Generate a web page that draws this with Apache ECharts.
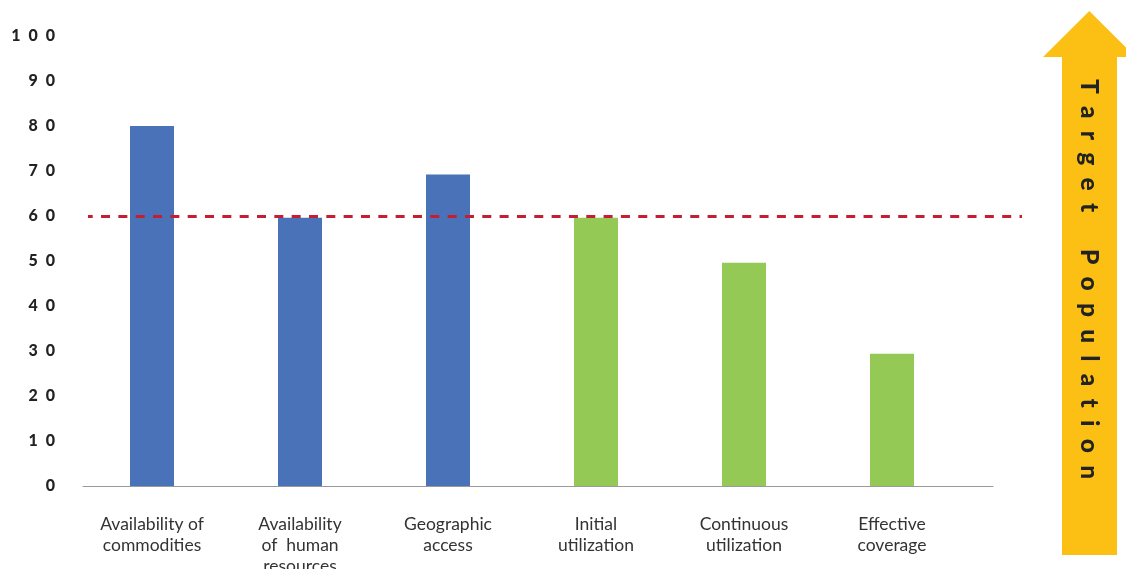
<!DOCTYPE html>
<html>
<head>
<meta charset="utf-8">
<script src="https://cdn.jsdelivr.net/npm/echarts@6/dist/echarts.min.js"></script>
<style>
  html, body { margin: 0; padding: 0; background: #ffffff; }
  #chart { width: 1126px; height: 569px; }
</style>
</head>
<body>
<div id="chart"></div>
<script>
// Health-system determinants and their coverage levels (%)
const categories = [
  'Availability of\ncommodities',
  'Availability\nof  human\nresources',
  'Geographic\naccess',
  'Initial\nutilization',
  'Continuous\nutilization',
  'Effective\ncoverage'
];
// supply-side determinants (blue)
const supplyValues = [80, 59.6, 69.2, '-', '-', '-'];
// demand-side determinants (green)
const demandValues = ['-', '-', '-', 59.6, 49.6, 29.4];
// target coverage threshold
const targetLevel = 60;
// y axis range and step
const yMin = 0, yMax = 100, yStep = 10;
const arrowLabel = 'Target Population';

const FONT = 'Lato, "Open Sans", sans-serif';

// spread characters apart with spaces
function spaced(str, gap, wordGap) {
  return str.split(' ').map(w => w.split('').join(gap)).join(wordGap);
}

const chart = echarts.init(document.getElementById('chart'), null, { renderer: 'canvas' });

const hiddenY = gi => ({ type: 'value', gridIndex: gi, min: yMin, max: yMax, show: false });
const gridBase = { top: 36, bottom: 83, containLabel: false, outerBoundsMode: 'none' };

chart.setOption({
  animation: false,
  backgroundColor: '#ffffff',
  grid: [
    Object.assign({ left: 78, width: 888 }, gridBase),   // bars
    Object.assign({ left: 83, right: 133 }, gridBase),   // baseline
    Object.assign({ left: 88, right: 104 }, gridBase)    // target line
  ],
  xAxis: [
    {
      type: 'category', gridIndex: 0, data: categories,
      axisLine: { show: false }, axisTick: { show: false },
      axisLabel: {
        interval: 0, margin: 28, fontSize: 17.5, lineHeight: 21,
        color: '#333333', fontFamily: FONT
      }
    },
    {
      type: 'value', gridIndex: 1, min: 0, max: 1,
      axisLine: { show: true, lineStyle: { color: '#9a9a9a', width: 1 } },
      axisTick: { show: false }, axisLabel: { show: false }, splitLine: { show: false }
    },
    { type: 'value', gridIndex: 2, min: 0, max: 1, show: false }
  ],
  yAxis: [
    {
      type: 'value', gridIndex: 0, min: yMin, max: yMax, interval: yStep,
      axisLine: { show: false }, axisTick: { show: false }, splitLine: { show: false },
      axisLabel: {
        margin: 23, fontSize: 16, fontWeight: 900, color: '#222222', fontFamily: FONT,
        formatter: v => String(v).split('').join('\u2002')
      }
    },
    hiddenY(1),
    hiddenY(2)
  ],
  series: [
    {
      name: 'Supply', type: 'bar', xAxisIndex: 0, yAxisIndex: 0,
      data: supplyValues, barWidth: 44, barGap: '-100%',
      itemStyle: { color: '#4A72B8' }
    },
    {
      name: 'Demand', type: 'bar', xAxisIndex: 0, yAxisIndex: 0,
      data: demandValues, barWidth: 44, barGap: '-100%',
      itemStyle: { color: '#95C955' }
    },
    {
      name: 'Target', type: 'line', xAxisIndex: 2, yAxisIndex: 2, data: [],
      markLine: {
        silent: true, symbol: 'none', label: { show: false },
        lineStyle: { color: '#C41E32', width: 3, type: [9, 8.33], dashOffset: 4.3 },
        data: [{ yAxis: targetLevel }]
      }
    }
  ],
  graphic: [
    {
      type: 'polygon', silent: true,
      shape: { points: [[1089.3, 11], [1135.6, 57], [1117, 57], [1117, 555], [1062, 555], [1062, 57], [1043, 57]] },
      style: { fill: '#FCBF14' }
    },
    {
      type: 'text', silent: true, x: 1089, y: 279, rotation: -Math.PI / 2,
      style: {
        text: spaced(arrowLabel, '\u2002', '\u2003\u2003'),
        fill: '#222222', fontSize: 24.5, fontWeight: 900, fontFamily: FONT,
        align: 'center', verticalAlign: 'middle'
      }
    }
  ]
});
</script>
</body>
</html>
